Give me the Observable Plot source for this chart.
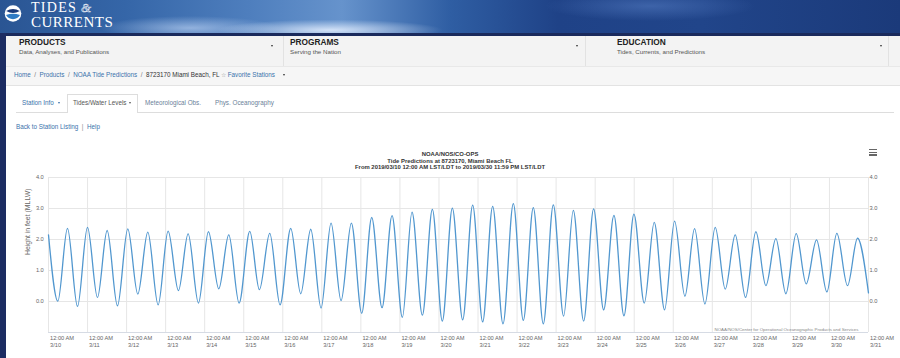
<!DOCTYPE html>
<html><head><meta charset="utf-8">
<script src="https://cdn.jsdelivr.net/npm/d3@7"></script>
<script src="https://cdn.jsdelivr.net/npm/@observablehq/plot@0.6"></script>
<style>
html,body{margin:0;padding:0;width:900px;height:358px;overflow:hidden;background:#fff;font-family:"Liberation Sans",Arial,sans-serif;}
.a{position:absolute;white-space:nowrap;}
#banner{left:0;top:0;width:900px;height:33px;
 background:
  radial-gradient(ellipse 150px 14px at 330px 30px, rgba(230,240,255,0.85), rgba(140,175,225,0) 75%),
  radial-gradient(ellipse 120px 16px at 190px 28px, rgba(200,220,250,0.6), rgba(140,175,225,0) 75%),
  radial-gradient(ellipse 140px 20px at 650px 6px, rgba(90,130,200,0.5), rgba(90,130,200,0) 75%),
  linear-gradient(90deg,#2a5593 0%,#3566a8 14%,#4f7fbe 28%,#6693cc 38%,#2f5ea3 50%,#1f4287 62%,#21458a 78%,#1b3a7a 100%);}
#bannerline{left:0;top:33px;width:900px;height:3px;background:#1a2a5c;}
#lstripe{left:0;top:33px;width:6px;height:325px;background:#1c2c62;}
#nav{left:6px;top:36px;width:894px;height:30px;background:#f3f3f3;}
.sep{top:36px;width:1px;height:30px;background:#e2e2e2;}
.navt{font-weight:bold;font-size:8.3px;color:#222;line-height:10px;}
.navs{font-size:6.2px;color:#555;line-height:8px;}
.caret{width:0;height:0;border-left:1.6px solid transparent;border-right:1.6px solid transparent;border-top:2.2px solid #333;}
#crumb{left:6px;top:66px;width:894px;height:18px;background:#f6f6f6;border-bottom:1px solid #e3e3e3;border-top:1px solid #e8e8e8;}
.t63{font-size:6.3px;line-height:8px;}
.lnk{color:#3a72ab;}
#tabline{left:16px;top:112px;width:878px;height:1px;background:#ddd;}
#acttab{left:67px;top:94px;width:69px;height:18px;background:#fff;border:1px solid #ddd;border-bottom:none;}
.tt{font-weight:bold;font-size:5.9px;color:#333;line-height:6.7px;left:300px;width:300px;text-align:center;}
#chart{left:0;top:172px;}
.hb{left:869px;width:8px;height:1.3px;background:#666;}
</style></head><body>
<div id="banner" class="a"></div>
<div id="bannerline" class="a"></div>
<svg class="a" style="left:3px;top:3px" width="20" height="22" viewBox="0 0 20 22">
 <circle cx="10" cy="10.5" r="8.3" fill="#fff"/>
 <path d="M3.2,8 Q10,4 16.8,8 Q10,12 3.2,8 Z" fill="#1b3a7a"/>
 <path d="M3,12 Q10,9.5 17,12 A8,8 0 0 1 3,12 Z" fill="#2f7bc4"/>
</svg>
<div class="a" style="left:31px;top:1px;font-family:'Liberation Serif',serif;font-size:14px;letter-spacing:1.3px;color:#fff;line-height:13px;">TIDES</div>
<div class="a" style="left:81px;top:0px;font-family:'Liberation Serif',serif;font-style:italic;font-size:13px;color:transparent;-webkit-text-stroke:0.6px rgba(255,255,255,0.85);line-height:15px;">&amp;</div>
<div class="a" style="left:31px;top:16px;font-family:'Liberation Serif',serif;font-size:15px;letter-spacing:0.5px;color:#fff;line-height:13px;">CURRENTS</div>
<div id="lstripe" class="a"></div>
<div id="nav" class="a"></div>
<div class="a sep" style="left:283px"></div>
<div class="a sep" style="left:585px"></div>
<div class="a sep" style="left:888px"></div>
<div class="a navt" style="left:19px;top:37px">PRODUCTS</div>
<div class="a navs" style="left:19px;top:48px">Data, Analyses, and Publications</div>
<div class="a caret" style="left:271px;top:45px"></div>
<div class="a navt" style="left:290px;top:37px">PROGRAMS</div>
<div class="a navs" style="left:290px;top:48px">Serving the Nation</div>
<div class="a caret" style="left:576px;top:45px"></div>
<div class="a navt" style="left:617px;top:37px">EDUCATION</div>
<div class="a navs" style="left:617px;top:48px">Tides, Currents, and Predictions</div>
<div class="a caret" style="left:880px;top:45px"></div>
<div id="crumb" class="a"></div>
<div class="a t63" style="left:14px;top:71px;color:#777"><span class="lnk">Home</span> &nbsp;/&nbsp; <span class="lnk">Products</span> &nbsp;/&nbsp; <span class="lnk">NOAA Tide Predictions</span> &nbsp;/&nbsp; <span style="color:#333">8723170 Miami Beach, FL</span> <span style="color:#999">☆</span> <span class="lnk">Favorite Stations</span></div>
<div class="a caret" style="left:283px;top:74px"></div>
<div id="tabline" class="a"></div>
<div id="acttab" class="a"></div>
<div class="a t63 lnk" style="left:22px;top:99px">Station Info</div>
<div class="a caret" style="left:58px;top:102px;border-top-color:#3a72ab"></div>
<div class="a t63" style="left:73px;top:99px;color:#555">Tides/Water Levels</div>
<div class="a caret" style="left:129px;top:102px;border-top-color:#555"></div>
<div class="a t63" style="left:145px;top:99px;color:#6b7f99">Meteorological Obs.</div>
<div class="a t63" style="left:215px;top:99px;color:#6b7f99">Phys. Oceanography</div>
<div class="a t63" style="left:16px;top:123px;color:#888"><span class="lnk">Back to Station Listing</span> &nbsp;|&nbsp; <span class="lnk">Help</span></div>
<div class="a tt" style="top:151px">NOAA/NOS/CO-OPS<br>Tide Predictions at 8723170, Miami Beach FL<br>From 2019/03/10 12:00 AM LST/LDT to 2019/03/30 11:59 PM LST/LDT</div>
<div class="a hb" style="top:149px"></div>
<div class="a hb" style="top:151.7px"></div>
<div class="a hb" style="top:154.4px"></div>
<div id="chart" class="a"></div>
<script>
// Tide extremes (high / low), with start and end values
const times = [
"2019-03-10T00:00","2019-03-10T05:44","2019-03-10T11:40","2019-03-10T17:49","2019-03-10T23:58",
"2019-03-11T06:06","2019-03-11T12:03","2019-03-11T18:23","2019-03-12T00:44","2019-03-12T06:53",
"2019-03-12T13:02","2019-03-12T19:23","2019-03-13T01:31","2019-03-13T07:52","2019-03-13T13:49",
"2019-03-13T20:10","2019-03-14T02:18","2019-03-14T08:39","2019-03-14T14:48","2019-03-14T21:09",
"2019-03-15T03:42","2019-03-15T09:38","2019-03-15T15:59","2019-03-15T22:20","2019-03-16T04:53",
"2019-03-16T11:02","2019-03-16T17:11","2019-03-16T23:32","2019-03-17T05:40","2019-03-17T11:49",
"2019-03-17T18:10","2019-03-18T00:31","2019-03-18T06:40","2019-03-18T13:00","2019-03-18T19:09",
"2019-03-19T01:30","2019-03-19T07:26","2019-03-19T13:47","2019-03-19T19:56","2019-03-20T02:04",
"2019-03-20T08:13","2019-03-20T14:34","2019-03-20T20:43","2019-03-21T02:51","2019-03-21T09:00",
"2019-03-21T15:21","2019-03-21T21:42","2019-03-22T03:50","2019-03-22T09:59","2019-03-22T16:08",
"2019-03-22T22:16","2019-03-23T04:37","2019-03-23T10:34","2019-03-23T16:55","2019-03-23T23:03",
"2019-03-24T05:12","2019-03-24T11:32","2019-03-24T17:41","2019-03-24T23:50","2019-03-25T06:11",
"2019-03-25T12:19","2019-03-25T18:40","2019-03-26T00:49","2019-03-26T07:10","2019-03-26T13:06",
"2019-03-26T19:27","2019-03-27T01:48","2019-03-27T07:57","2019-03-27T14:05","2019-03-27T20:26",
"2019-03-28T02:47","2019-03-28T08:56","2019-03-28T15:04","2019-03-28T21:13","2019-03-29T03:34",
"2019-03-29T09:43","2019-03-29T16:04","2019-03-29T22:25","2019-03-30T04:33","2019-03-30T11:06",
"2019-03-30T17:15","2019-03-30T23:59"
];
const heights = [
2.15,0.01,2.36,-0.16,2.39,
0.13,2.29,-0.14,2.34,0.24,
2.24,-0.11,2.27,0.35,2.18,
-0.05,2.25,0.41,2.15,-0.05,
2.26,0.38,2.20,-0.11,2.36,
0.25,2.33,-0.21,2.53,0.03,
2.53,-0.38,2.71,-0.20,2.77,
-0.51,2.88,-0.44,2.97,-0.63,
3.01,-0.59,3.11,-0.66,3.07,
-0.72,3.16,-0.61,3.03,-0.72,
3.12,-0.47,2.94,-0.63,2.99,
-0.27,2.78,-0.46,2.82,-0.05,
2.55,-0.27,2.59,0.17,2.35,
-0.08,2.39,0.40,2.15,0.13,
2.25,0.51,2.03,0.25,2.19,
0.57,1.99,0.31,2.20,0.51,
2.04,0.28
];
const yTicks = [0, 1, 2, 3, 4];
const yTitle = "Height in feet (MLLW)";
const credit = "NOAA/NOS/Center for Operational Oceanographic Products and Services";
const timeLabel = "12:00 AM";

const parse = d3.utcParse("%Y-%m-%dT%H:%M");
const data = times.map((t, i) => ({t: parse(t), h: heights[i]}));
const start = new Date(Date.UTC(2019, 2, 10)), end = new Date(Date.UTC(2019, 2, 31));
const days = d3.utcDay.range(start, d3.utcDay.offset(end, 1));
const fmt = d3.utcFormat("%-m/%-d");

const chart = Plot.plot({
  width: 900, height: 186,
  marginTop: 5, marginBottom: 26, marginLeft: 48, marginRight: 32,
  style: {fontFamily: "'Liberation Sans', Arial, sans-serif", fontSize: "5.7px", color: "#666", background: "transparent", overflow: "visible"},
  x: {type: "utc", domain: [start, end]},
  y: {domain: [-1, 4]},
  marks: [
    Plot.gridX(days, {stroke: "#e6e6e6", strokeOpacity: 1}),
    Plot.gridY(yTicks, {stroke: "#e6e6e6", strokeOpacity: 1}),
    Plot.ruleY([-1], {stroke: "#d6dbe4"}),
    Plot.line(data, {x: "t", y: "h", curve: "monotone-x", stroke: "#5197cf", strokeWidth: 1.3}),
    Plot.axisX(days, {tickSize: 0, tickPadding: 2.7, textAnchor: "start", dx: 1.5, lineHeight: 1.17,
      tickFormat: d => timeLabel + "\n" + fmt(d), fill: "#666", label: null}),
    Plot.axisY(yTicks, {anchor: "left", tickSize: 0, tickPadding: 4.7, tickFormat: d => d.toFixed(1), fill: "#666", label: null}),
    Plot.axisY(yTicks, {anchor: "right", tickSize: 0, tickPadding: 1, tickFormat: d => d.toFixed(1), fill: "#666", label: null}),
    Plot.text([yTitle], {frameAnchor: "left", rotate: -90, dx: -21, fontSize: 6.9, fill: "#666"}),
    Plot.text([credit], {frameAnchor: "bottom-right", dx: -10, dy: -2, fontSize: 4.4, fill: "#888"})
  ]
});
document.getElementById("chart").appendChild(chart);
</script>
</body></html>
